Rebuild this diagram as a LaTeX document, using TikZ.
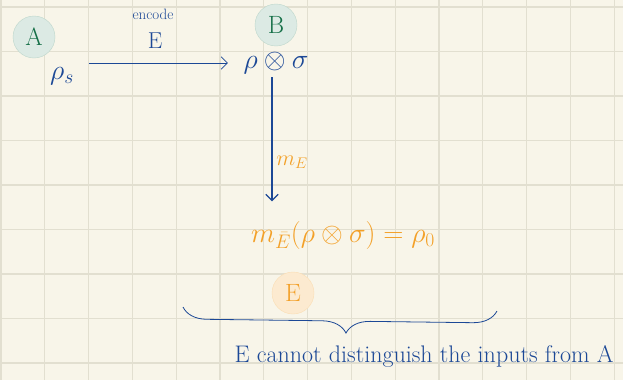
\RequirePackage{fix-cm}
\documentclass[tikz,border=0pt]{standalone}
\usepackage{amsmath,amssymb}
\usetikzlibrary{arrows.meta,decorations.pathreplacing}
\definecolor{paper}{RGB}{248,245,233}
\definecolor{gridgray}{RGB}{226,223,208}
\definecolor{ink}{RGB}{28,72,150}
\definecolor{inkorange}{RGB}{243,160,40}
\definecolor{inkgreen}{RGB}{22,112,72}

\begin{document}
\begin{tikzpicture}[x=1pt, y=-1pt, >={Straight Barb[length=2.2mm]},
	every node/.style={font=\fontsize{28}{30}\selectfont, text=ink},
	party/.style={circle, minimum size=42pt, inner sep=0pt, font=\fontsize{25}{27}\selectfont},
	greenparty/.style={party, fill=inkgreen!15, draw=inkgreen!28, text=inkgreen},
	orangeparty/.style={party, fill=inkorange!22, draw=inkorange!35, text=inkorange}]
	\useasboundingbox (0,0) rectangle (623,380);
	\fill[paper] (0,0) rectangle (623,380);
	\foreach \i in {0,...,14}
		\draw[gridgray, line width=1.2pt] ({1+43.8*\i},0) -- ({1+43.8*\i},380);
	\foreach \j in {0,...,8}
		\draw[gridgray, line width=1.2pt] (0,{7+44.5*\j}) -- (623,{7+44.5*\j});
	\node[greenparty] (A) at (34,37) {A};
	\node[greenparty] (B) at (276,25) {B};
	\node (rhos) at (62,76) {$\rho_s$};
	\node (tens) at (276,63) {$\rho\otimes\sigma$};
	\node[font=\fontsize{15}{16}\selectfont] (enc) at (153,14) {encode};
	\node[font=\fontsize{23}{25}\selectfont] (encE) at (155,41) {E};
	\draw[->, ink, thick] ([xshift=12pt]rhos.east |- tens.west) -- ([xshift=-12pt]tens.west);
	\node[text=inkorange] (res) at (343,235) {$m_{\bar E}(\rho\otimes\sigma)=\rho_0$};
	\draw[->, ink, line width=1.3pt, shorten >=16pt] ([xshift=-4pt]tens.south) -- ([xshift=-4pt]tens.south |- res.north);
	\node[text=inkorange, font=\fontsize{22}{24}\selectfont] (mE) at (292,162) {$m_E$};
	\node[orangeparty] (Eve) at (293,293) {E};
	\coordinate (bl) at (183,307);
	\coordinate (br) at (497,311);
	\draw[ink, thick, decorate, decoration={brace, mirror, amplitude=24pt, aspect=0.52}] (bl) -- (br);
	\node[font=\fontsize{24}{26}\selectfont] (note) at (424,356) {E cannot distinguish the inputs from A};
\end{tikzpicture}
\end{document}
